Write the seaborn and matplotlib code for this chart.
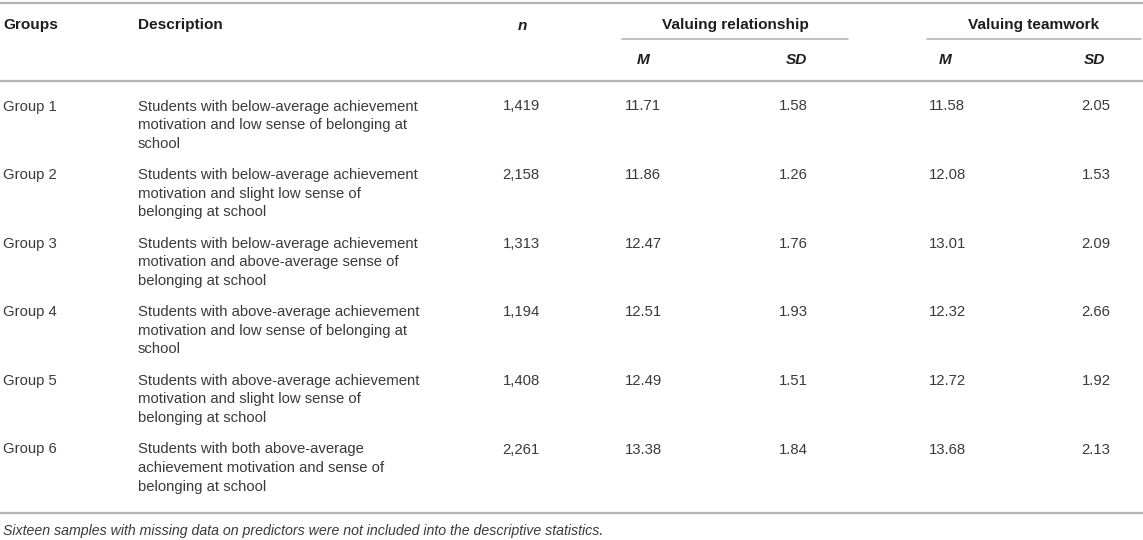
import matplotlib
matplotlib.use("Agg")
import matplotlib.pyplot as plt
import seaborn as sns

# --- Table content ---
groups = ["Group 1", "Group 2", "Group 3", "Group 4", "Group 5", "Group 6"]
descriptions = [
    "Students with below-average achievement\nmotivation and low sense of belonging at\nschool",
    "Students with below-average achievement\nmotivation and slight low sense of\nbelonging at school",
    "Students with below-average achievement\nmotivation and above-average sense of\nbelonging at school",
    "Students with above-average achievement\nmotivation and low sense of belonging at\nschool",
    "Students with above-average achievement\nmotivation and slight low sense of\nbelonging at school",
    "Students with both above-average\nachievement motivation and sense of\nbelonging at school",
]
n_values = ["1,419", "2,158", "1,313", "1,194", "1,408", "2,261"]
rel_m = ["11.71", "11.86", "12.47", "12.51", "12.49", "13.38"]
rel_sd = ["1.58", "1.26", "1.76", "1.93", "1.51", "1.84"]
team_m = ["11.58", "12.08", "13.01", "12.32", "12.72", "13.68"]
team_sd = ["2.05", "1.53", "2.09", "2.66", "1.92", "2.13"]
footnote = ("Sixteen samples with missing data on predictors were not "
            "included into the descriptive statistics.")

sns.set_theme(style="white")
plt.rcParams["font.family"] = ["Liberation Sans", "DejaVu Sans"]

W, H = 1143, 540
fig = plt.figure(figsize=(W / 100, H / 100), dpi=100)
ax = fig.add_axes([0, 0, 1, 1])
ax.set_xlim(0, W)
ax.set_ylim(H, 0)
ax.axis("off")

fs_body, fs_head, fs_note = 10.75, 11.1, 10.2
body = "#3a3a3a"
head = "#1e1e1e"
rule = "#b4b4b4"

# column anchors (pixels)
x_group, x_desc = 3, 138
x_n, x_rm, x_rsd, x_tm, x_tsd = 521, 643, 793, 947, 1096


def txt(x, y, s, ha="left", weight="normal", style="normal", color=body, fs=fs_body):
    ax.text(x, y, s, ha=ha, va="center_baseline", fontsize=fs,
            fontweight=weight, fontstyle=style, color=color)


# rules
ax.plot([0, W], [3, 3], color=rule, lw=1.6)
ax.plot([0, W], [81, 81], color=rule, lw=1.6)
ax.plot([622, 848], [39, 39], color=rule, lw=1.2)
ax.plot([927, 1141], [39, 39], color=rule, lw=1.2)
ax.plot([0, W], [513, 513], color=rule, lw=1.6)

# header
y_h1, y_h2 = 24, 59
hk = dict(weight="bold", color=head, fs=fs_head)
txt(x_group, y_h1, "Groups", **hk)
txt(x_desc, y_h1, "Description", **hk)
txt(x_n + 1, y_h1, "n", ha="center", style="italic", **hk)
txt(735, y_h1, "Valuing relationship", ha="center", **hk)
txt(1034, y_h1, "Valuing teamwork", ha="center", **hk)
for x, lab in [(x_rm, "M"), (x_rsd + 3, "SD"), (x_tm - 2, "M"), (x_tsd - 2, "SD")]:
    txt(x, y_h2, lab, ha="center", style="italic", **hk)

# body rows
y0, pitch, lh = 105, 68.6, 18.6
for i, g in enumerate(groups):
    y = y0 + i * pitch
    txt(x_group, y, g)
    for j, line in enumerate(descriptions[i].split("\n")):
        txt(x_desc, y + j * lh, line)
    txt(x_n, y, n_values[i], ha="center")
    txt(x_rm, y, rel_m[i], ha="center")
    txt(x_rsd, y, rel_sd[i], ha="center")
    txt(x_tm, y, team_m[i], ha="center")
    txt(x_tsd, y, team_sd[i], ha="center")

txt(x_group, 530, footnote, style="italic", fs=fs_note)

fig.savefig("out.png", dpi=100)
